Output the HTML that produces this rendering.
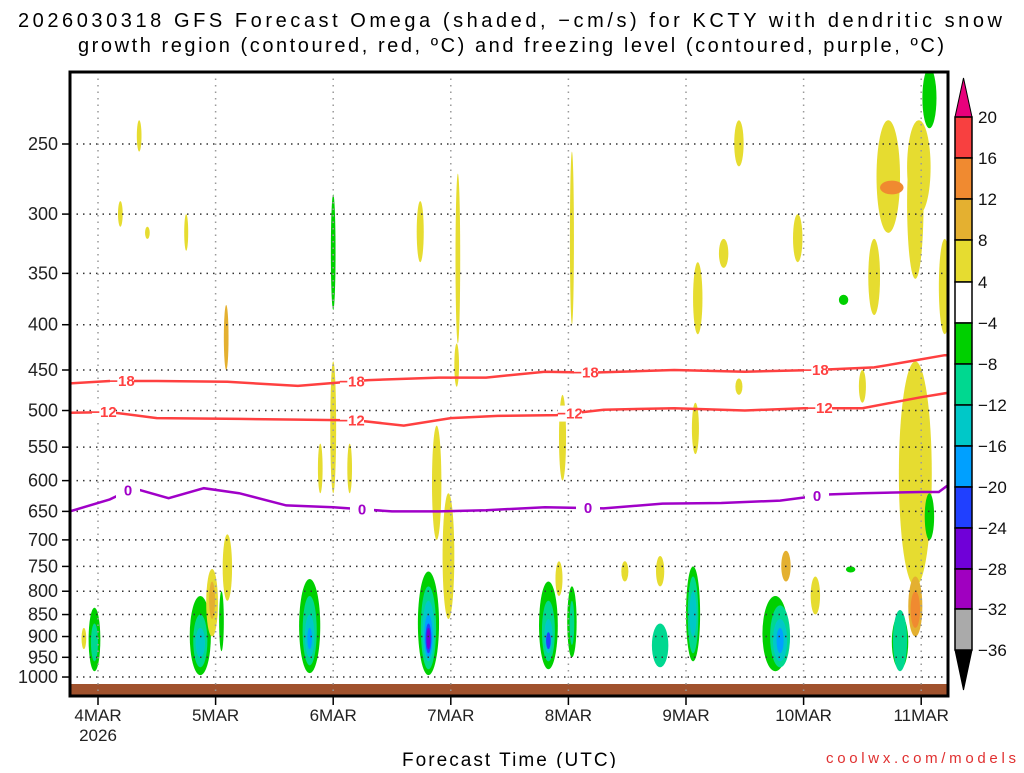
<!DOCTYPE html>
<html><head><meta charset="utf-8"><style>
body{margin:0;background:#fff;width:1024px;height:768px;overflow:hidden}
svg{font-family:"Liberation Sans",sans-serif}
</style></head><body>
<svg id="c" width="1024" height="768" viewBox="0 0 1024 768">
<text x="18" y="27" font-size="20" textLength="984" lengthAdjust="spacing" fill="#000">2026030318 GFS Forecast Omega (shaded, −cm/s) for KCTY with dendritic snow</text>
<text x="78" y="52" font-size="20" textLength="866" lengthAdjust="spacing" fill="#000">growth region (contoured, red, ºC) and freezing level (contoured, purple, ºC)</text>
<text x="402" y="766" font-size="19" textLength="214" lengthAdjust="spacing">Forecast Time (UTC)</text>
<text x="826" y="763" font-size="15" textLength="190" lengthAdjust="spacing" fill="#e03030">coolwx.com/models</text>
<g id="plot"></g>
<g id="cbar"></g>
</svg>
<script>
const pTicks=[250,300,350,400,450,500,550,600,650,700,750,800,850,900,950,1000];
const dayLabels=["4MAR","5MAR","6MAR","7MAR","8MAR","9MAR","10MAR","11MAR"];
const levels=[20,16,12,8,4,-4,-8,-12,-16,-20,-24,-28,-32,-36];
const levelColors=["#f84040","#f08a30","#e4b030","#e6dc30","#ffffff","#00d000","#00d890","#00c8c8","#00a0ff","#2040ff","#7000d8","#a000c0","#aaaaaa"];
// blobs: day offset from 4MAR, top pressure, bottom pressure, half-width (days), value
const blobDay=[-0.03,-0.03,-0.12,0.87,0.87,0.87,0.97,0.97,1.05,1.1,1.8,1.8,1.8,1.8,2.0,2.0,2.81,2.81,2.81,2.81,2.81,2.81,2.98,3.06,3.83,3.83,3.83,3.83,4.03,4.03,3.92,4.78,5.06,5.06,5.06,4.78,5.76,5.8,5.8,5.8,5.85,6.1,6.95,6.72,6.75,6.95,6.6,7.2,6.82,6.82,6.95,6.95,7.07,7.07,5.1,5.32,5.45,5.95,5.45,5.08,4.48,3.95,4.03,3.05,0.42,0.19,0.35,0.75,1.09,2.74,6.34,6.4,6.5,2.88,1.89,2.14,6.98];
const blobTop=[835,870,880,810,850,880,755,780,800,690,775,810,850,880,440,285,760,790,820,850,870,880,620,270,780,820,860,890,790,820,740,870,750,770,800,730,810,830,860,880,720,770,440,235,275,240,320,320,850,840,770,800,205,620,340,320,235,300,460,490,740,480,255,420,310,290,235,300,380,290,370,750,450,520,545,545,235];
const blobBot=[985,960,930,995,975,950,900,860,935,820,990,970,950,930,620,385,995,980,960,950,940,930,860,420,980,960,940,930,950,920,810,975,960,940,900,790,985,975,960,940,780,850,790,315,285,355,390,410,980,985,900,880,240,700,410,345,265,340,480,560,780,600,400,470,320,310,255,330,450,340,380,762,490,700,620,620,300];
const blobW=[0.05,0.03,0.02,0.09,0.06,0.04,0.05,0.025,0.02,0.04,0.09,0.06,0.04,0.02,0.025,0.02,0.09,0.065,0.05,0.035,0.025,0.015,0.05,0.02,0.08,0.055,0.035,0.02,0.04,0.02,0.03,0.07,0.06,0.045,0.03,0.035,0.11,0.085,0.06,0.03,0.04,0.04,0.14,0.1,0.1,0.07,0.05,0.05,0.07,0.06,0.06,0.04,0.06,0.04,0.04,0.04,0.04,0.04,0.03,0.03,0.03,0.03,0.01,0.02,0.02,0.02,0.02,0.01,0.02,0.03,0.04,0.04,0.03,0.04,0.02,0.02,0.1];
const blobVal=[-6,-10,6,-6,-10,-14,6,10,-6,6,-6,-10,-14,-18,6,-6,-6,-10,-14,-18,-22,-26,6,6,-6,-10,-14,-22,-6,-10,6,-10,-6,-10,-14,6,-6,-10,-14,-18,10,6,6,6,14,6,6,6,-6,-10,10,14,-6,-6,6,6,6,6,6,6,6,6,6,6,6,6,6,6,10,6,-6,-6,6,6,6,6,6];
// contours
const c18Day=[-0.24,0.1,0.5,1.1,1.7,2.3,2.9,3.3,3.8,4.2,4.9,5.5,6.1,6.6,6.9,7.2,7.25];
const c18P=[466,463,463,464,469,462,459,459,452,453,450,452,450,447,440,433,433];
const c12Day=[-0.24,0.1,0.5,1.2,1.7,2.2,2.6,3.0,3.4,3.9,4.3,4.9,5.5,6.0,6.5,7.0,7.25];
const c12P=[503,502,510,511,512,513,520,510,507,506,499,497,500,497,497,483,477];
const c0Day=[-0.24,0.1,0.3,0.6,0.9,1.2,1.6,2.0,2.5,2.9,3.3,3.8,4.3,4.8,5.3,5.8,6.2,6.5,7.0,7.15,7.25];
const c0P=[650,630,612,628,612,620,640,643,650,650,648,643,645,637,636,632,622,620,618,618,604];

const NS='http://www.w3.org/2000/svg';
const L=70,R=948,T=72,B=696,D0=98,DPX=117.6;
const xs=d=>D0+d*DPX;
const ys=p=>144+384.5*Math.log(p/250);
function mk(tag,at,par){const e=document.createElementNS(NS,tag);for(const k in at)e.setAttribute(k,at[k]);par.appendChild(e);return e;}
function colorOf(v){for(let i=0;i<levels.length-1;i++){if(v<=levels[i]&&v>levels[i+1])return levelColors[i];}return v>20?"#e8007c":"#000";}
const plot=document.getElementById('plot');
mk('rect',{x:L,y:T,width:R-L,height:B-T,fill:'#fff'},plot);
const clip=mk('clipPath',{id:'pc'},plot);mk('rect',{x:L,y:T,width:R-L,height:B-T},clip);
const g=mk('g',{'clip-path':'url(#pc)'},plot);
for(let i=0;i<blobDay.length;i++){
  const y1=ys(blobTop[i]),y2=ys(blobBot[i]);
  const e=mk('ellipse',{cx:xs(blobDay[i]),cy:(y1+y2)/2,rx:Math.max(2,blobW[i]*DPX),ry:(y2-y1)/2,fill:colorOf(blobVal[i])},g);
  
  
}
const gr=mk('rect',{x:L,y:684,width:R-L,height:B-684,fill:'#a0522d'},g);


pTicks.forEach(p=>{const y=ys(p);
  const gl=mk('line',{x1:L,x2:R,y1:y,y2:y,stroke:'#333','stroke-dasharray':'1.5 5','stroke-width':1.5},g);
  
  
  mk('line',{x1:L-8,x2:L,y1:y,y2:y,stroke:'#000','stroke-width':1.5},plot);
  const t=mk('text',{x:L-12,y:y+6,'font-size':18,'text-anchor':'end',fill:'#222'},plot);t.textContent=p;
  
  
});
dayLabels.forEach((lab,i)=>{const x=xs(i);
  const gl=mk('line',{x1:x,x2:x,y1:T,y2:B,stroke:'#999','stroke-dasharray':'1.5 5','stroke-width':1.5},g);
  
  
  mk('line',{x1:x,x2:x,y1:B,y2:B+9,stroke:'#000','stroke-width':1.5},plot);
  const t=mk('text',{x:x,y:B+25,'font-size':17,'text-anchor':'middle',fill:'#222'},plot);t.textContent=lab;
  
  
});
const yr=mk('text',{x:xs(0),y:B+45,'font-size':17,'text-anchor':'middle',fill:'#222'},plot);yr.textContent='2026';


function contour(ds,ps,col,name,labs,txt){
  const pts=ds.map((d,i)=>xs(d).toFixed(1)+','+ys(ps[i]).toFixed(1)).join(' ');
  const pl=mk('polyline',{points:pts,fill:'none',stroke:col,'stroke-width':2.5},g);
  
  
  labs.forEach(x=>{
    let y=ys(ps[0]);for(let i=0;i<ds.length-1;i++){const a=xs(ds[i]),b=xs(ds[i+1]);if(x>=a&&x<=b){const f=(x-a)/(b-a);y=ys(ps[i])+f*(ys(ps[i+1])-ys(ps[i]));}}
    mk('rect',{x:x-12,y:y-8,width:24,height:16,fill:'#fff'},g);
    const t=mk('text',{x:x,y:y+5,'font-size':15,'font-weight':'bold','text-anchor':'middle',fill:col},g);t.textContent=txt;
    
    
  });
}
contour(c18Day,c18P,'#ff4040','contour-minus18',[122,352,586,816],'−18');
contour(c12Day,c12P,'#ff4040','contour-minus12',[104,352,570,820],'−12');
contour(c0Day,c0P,'#a000c8','freezing-level-contour',[128,362,588,817],'0');
mk('rect',{x:L,y:T,width:R-L,height:B-T,fill:'none',stroke:'#000','stroke-width':3},plot);
const cb=document.getElementById('cbar');
const cbX=955,cbW=17,cbY=[117,158,199,240,282,323,364,405,446,487,528,569,609,650];
const up=mk('polygon',{points:`${cbX},117 ${cbX+cbW},117 ${cbX+cbW/2},78`,fill:'#e8007c',stroke:'#000'},cb);


const dn=mk('polygon',{points:`${cbX},650 ${cbX+cbW},650 ${cbX+cbW/2},690`,fill:'#000',stroke:'#000'},cb);


levelColors.forEach((c,i)=>{
  const r=mk('rect',{x:cbX,y:cbY[i],width:cbW,height:cbY[i+1]-cbY[i],fill:c,stroke:'#000','stroke-width':1.5},cb);
  
  
});
levels.forEach((v,i)=>{
  const t=mk('text',{x:978,y:cbY[i]+6,'font-size':17,fill:'#111'},cb);t.textContent=v<0?'−'+(-v):v;
  
  
});
</script>
</body></html>
